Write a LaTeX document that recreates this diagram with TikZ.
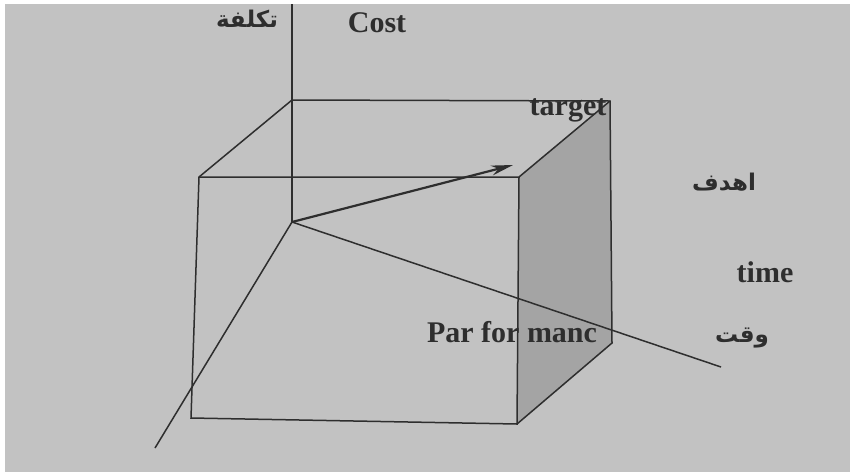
\documentclass[tikz,border=0pt]{standalone}
\usepackage{fontspec}
\setmainfont{Liberation Serif}
\newfontfamily\arabicfont[Script=Arabic]{DejaVu Sans}
\TeXXeTstate=1
\usetikzlibrary{arrows.meta}
\definecolor{paper}{HTML}{C2C2C2}
\definecolor{sideface}{HTML}{A4A4A4}
\definecolor{ink}{HTML}{2E2E2E}
\begin{document}
\begin{tikzpicture}[x=1pt,y=-1pt,
  edge/.style={draw=ink,line width=1.5pt},
  lbl/.style={font=\bfseries\fontsize{30}{33}\selectfont,text=ink,inner sep=0pt,anchor=base},
  albl/.style={font=\arabicfont\bfseries\fontsize{23}{26}\selectfont,text=ink,inner sep=0pt,anchor=base}]
\useasboundingbox (0,0) rectangle (850,472);
\fill[white] (0,0) rectangle (850,472);
\fill[paper] (5,4) rectangle (850,472);
% cube corners
\coordinate (FTL) at (199,177);
\coordinate (FTR) at (519,177);
\coordinate (FBR) at (517,424);
\coordinate (FBL) at (191,418);
\coordinate (BTL) at (292,100);
\coordinate (BTR) at (610,101);
\coordinate (BBR) at (612,343);
% axes ends
\coordinate (O) at (292,222);
\coordinate (ZT) at (292,4);
\coordinate (XL) at (155,448);
\coordinate (TT) at (721,367);
\coordinate (TG) at (513,165);
% shaded face
\fill[sideface] (FTR) -- (BTR) -- (BBR) -- (FBR) -- cycle;
% cube edges
\draw[edge] (FTL) -- (FTR) -- (FBR) -- (FBL) -- cycle;
\draw[edge] (FTL) -- (BTL) -- (BTR) -- (BBR) -- (FBR);
\draw[edge] (FTR) -- (BTR);
% axes
\draw[edge] (ZT) -- (O);
\draw[edge] (O) -- (XL);
\draw[edge] (O) -- (TT);
\draw[draw=ink,line width=2.2pt,-{Stealth[length=22pt,width=10pt]}] (O) -- (TG);
% labels
\node[lbl] (cost) at (377,32) {Cost};
\node[albl] (costar) at (247,27) {\beginR تكلفة\endR};
\node[lbl] (target) at (568,115) {target};
\node[albl] (targetar) at (724,190) {\beginR اهدف\endR};
\node[lbl] (time) at (765,282) {time};
\node[albl] (timear) at (742,342) {\beginR وقت\endR};
\node[lbl] (perf) at (512,342) {Par for manc};
\end{tikzpicture}
\end{document}
